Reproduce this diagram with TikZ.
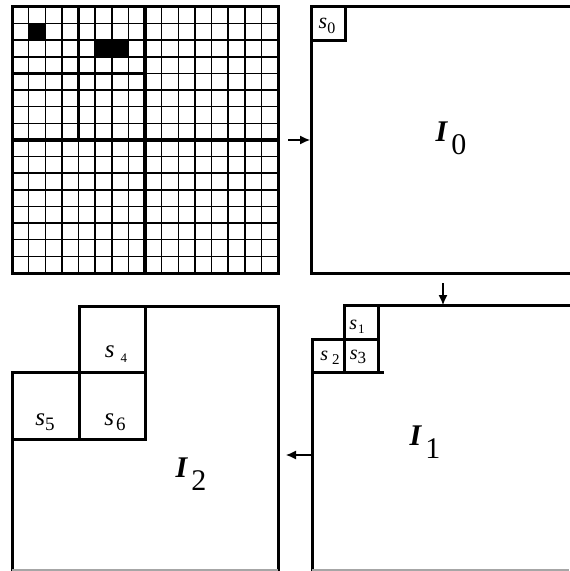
\documentclass[tikz,border=0pt]{standalone}
\usepackage{fontspec}
\setmainfont{Liberation Serif}
\usetikzlibrary{arrows.meta}
\tikzset{
  frame/.style={line width=1.5pt, line cap=rect},
  cellline/.style={line width=0.75pt},
  quadline/.style={line width=1.7pt},
  cutline/.style={line width=0.6pt, gray!70},
  blk/.style={fill=black},
  move/.style={-{Latex[length=5pt,width=4.5pt]}, line width=0.6pt},
  lbl/.style={inner sep=0pt, font=\fontsize{11}{11}\selectfont},
  biglbl/.style={inner sep=0pt, font=\fontsize{15}{15}\selectfont},
}
\newcommand{\sname}[3]{\textit{s}\hspace{#3}\raisebox{-0.45ex}{\fontsize{#2}{#2}\selectfont #1}}
\newcommand{\iname}[1]{\textbf{\textit{I}}\hspace{1.5pt}\raisebox{-0.95ex}{\fontsize{15}{15}\selectfont #1}}

\begin{document}
\begin{tikzpicture}[x=0.5pt,y=-0.5pt]
  \useasboundingbox (0,0) rectangle (569,571);
  % input image: 16x16 cells, quadtree splits
  \fill[blk] (28.6,23.6) rectangle (45.3,40.3);
  \fill[blk] (95.1,40.3) rectangle (128.4,56.9);
  \foreach \i in {1,...,15} {
    \draw[cellline] ({12+\i*16.625},7) -- ({12+\i*16.625},273);
    \draw[cellline] (12,{7+\i*16.625}) -- (278,{7+\i*16.625});
  }
  \draw[quadline] (145,7) -- (145,273) (12,140) -- (278,140);
  \draw[quadline] (78.5,7) -- (78.5,140) (12,73.5) -- (145,73.5);
  \draw[frame] (12,7) rectangle (278,273);

  % I0
  \draw[frame] (569,7) -- (311,7) -- (311,273) -- (569,273);
  \draw[frame] (311,41) -- (345,41) -- (345,7);
  \node[lbl] (s0) at (327,26) {\sname{0}{8}{0pt}};
  \node[biglbl] (I0) at (451,138) {\iname{0}};

  % I1
  \draw[frame] (569,305) -- (344,305) -- (344,372);
  \draw[frame] (378,305) -- (378,372);
  \draw[frame] (312,339) -- (378,339);
  \draw[frame] (312,571) -- (312,372) -- (382,372);
  \draw[frame] (312,339) -- (312,372);
  \draw[cutline] (312,570) -- (569,570);
  \node[lbl, font=\fontsize{10}{10}\selectfont] (s1) at (357,327) {\sname{1}{6.5}{0.5pt}};
  \node[lbl, font=\fontsize{10}{10}\selectfont] (s2) at (330,358) {\sname{2}{7.5}{2pt}};
  \node[lbl, font=\fontsize{10}{10}\selectfont] (s3) at (358,357) {\sname{3}{8.5}{0pt}};
  \node[biglbl] (I1) at (425,442) {\iname{1}};

  % I2
  \draw[frame] (79,439) -- (79,306) -- (278,306) -- (278,571);
  \draw[frame] (145,306) -- (145,439);
  \draw[frame] (12,571) -- (12,372) -- (145,372);
  \draw[frame] (12,439) -- (145,439);
  \draw[cutline] (12,570) -- (278,570);
  \node[lbl, font=\fontsize{12.5}{12.5}\selectfont] (s4) at (116,354) {\sname{4}{6.5}{3pt}};
  \node[lbl, font=\fontsize{12.5}{12.5}\selectfont] (s5) at (45,422) {\sname{5}{9.5}{0pt}};
  \node[lbl, font=\fontsize{12.5}{12.5}\selectfont] (s6) at (115,422) {\sname{6}{9.5}{1pt}};
  \node[biglbl] (I2) at (191,474) {\iname{2}};

  % steps
  \coordinate (grid-out) at (288,140);
  \coordinate (I0-in) at (310,140);
  \coordinate (I0-out) at (443,283);
  \coordinate (I1-in) at (443,305);
  \coordinate (I1-out) at (311,455);
  \coordinate (I2-in) at (286,455);
  \draw[move] (grid-out) -- (I0-in);
  \draw[move] (I0-out) -- (I1-in);
  \draw[move] (I1-out) -- (I2-in);
\end{tikzpicture}
\end{document}
